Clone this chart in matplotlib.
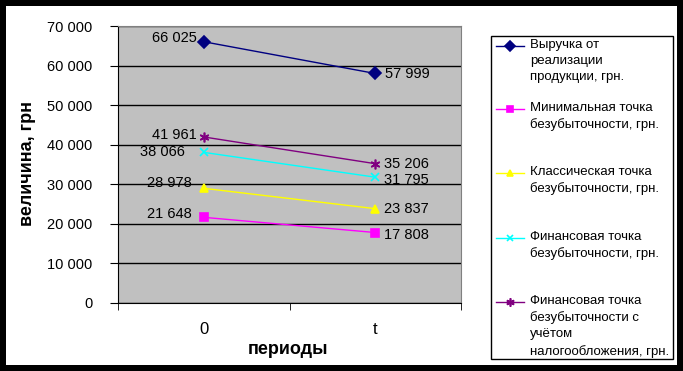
import matplotlib.pyplot as plt
from matplotlib.patches import Rectangle
from matplotlib.lines import Line2D
from matplotlib.ticker import FuncFormatter, FixedLocator

plt.rcParams['font.family'] = ['Liberation Sans', 'DejaVu Sans']

periods = ['0', 't']
names = ['Выручка от\nреализации\nпродукции, грн.',
         'Минимальная точка\nбезубыточности, грн.',
         'Классическая точка\nбезубыточности, грн.',
         'Финансовая точка\nбезубыточности, грн.',
         'Финансовая точка\nбезубыточности с\nучётом\nналогообложения, грн.']
revenue = [66025, 57999]
min_point = [21648, 17808]
classic_point = [28978, 23837]
fin_point = [38066, 31795]
fin_tax_point = [41961, 35206]

series = [revenue, min_point, classic_point, fin_point, fin_tax_point]
colors = ['#000080', '#FF00FF', '#FFFF00', '#00FFFF', '#800080']
markers = ['D', 's', '^', 'x', (6, 2, 0)]
msizes = [6, 6, 6, 6, 7]
# label offsets in pixels for point 0 and point t
offs = [[(-7, 4), (10, -1)],
        [(-12, 3), (9, -2)],
        [(-12, 5), (9, 0)],
        [(-19, 0), (9, -3)],
        [(-7, 2), (9, 0)]]

W, H = 683, 371
fig = plt.figure(figsize=(W / 100, H / 100), dpi=100)
fig.patch.set_facecolor('black')
fig.add_artist(Rectangle((6 / W, 6 / H), (677 - 6) / W, (365 - 6) / H,
                         transform=fig.transFigure, facecolor='white',
                         edgecolor='none', zorder=0))

ax = fig.add_axes([118 / W, 1 - 303 / H, (461 - 118) / W, (303 - 26) / H])
ax.set_facecolor('#C0C0C0')
x = list(range(len(periods)))
for s, c, m, ms, off in zip(series, colors, markers, msizes, offs):
    ax.plot(x, s, color=c, marker=m, markersize=ms, lw=1, mew=1.2,
            zorder=3, clip_on=False)
    for xi, v, o in zip(x, s, off):
        ax.annotate(f'{v:,}'.replace(',', ' '), (xi, v), xytext=o,
                    textcoords='offset pixels', fontsize=10.5,
                    ha='right' if xi == 0 else 'left', va='center')

ax.set_xlim(-0.5, 1.5)
ax.set_ylim(0, 70000)
ax.set_yticks(range(0, 70001, 10000))
ax.yaxis.set_major_formatter(FuncFormatter(lambda v, p: f'{int(v):,}'.replace(',', ' ')))
ax.yaxis.grid(True, color='black', lw=1)
ax.set_axisbelow(True)
ax.set_xticks(x)
ax.set_xticklabels(periods, fontsize=12)
ax.xaxis.set_minor_locator(FixedLocator([-0.5, 0.5, 1.5]))
ax.tick_params(axis='x', which='major', length=0, pad=14)
ax.tick_params(axis='x', which='minor', length=5, color='black')
ax.tick_params(axis='y', length=6, pad=12.5, labelsize=10.5)
for sp in ['top', 'right']:
    ax.spines[sp].set_color('#808080')
fig.text(288 / W, 1 - 349 / H, 'периоды', fontsize=13, fontweight='bold',
         ha='center', va='center')
fig.text(27 / W, 1 - 163 / H, 'величина, грн', rotation=90, fontsize=13,
         fontweight='bold', ha='center', va='center')

# legend box
fig.add_artist(Rectangle((491 / W, 1 - 359 / H), (673 - 491) / W, (359 - 36) / H,
                         transform=fig.transFigure, facecolor='white',
                         edgecolor='black', lw=1, zorder=2))
tops = [46, 109, 173, 238, 302]
for name, c, m, ms, ty in zip(names, colors, markers, msizes, tops):
    fy = 1 - ty / H
    fig.add_artist(Line2D([496 / W, 524 / W], [fy, fy], transform=fig.transFigure,
                          color=c, lw=1, zorder=3))
    fig.add_artist(Line2D([510 / W], [fy], transform=fig.transFigure, color=c,
                          marker=m, markersize=ms - 1, mew=1.2, zorder=3))
    fig.text(530 / W, 1 - (ty - 7) / H, name, fontsize=9.5, ha='left', va='top',
             linespacing=1.45, zorder=4)

fig.savefig('out.png', dpi=100, facecolor=fig.get_facecolor())
